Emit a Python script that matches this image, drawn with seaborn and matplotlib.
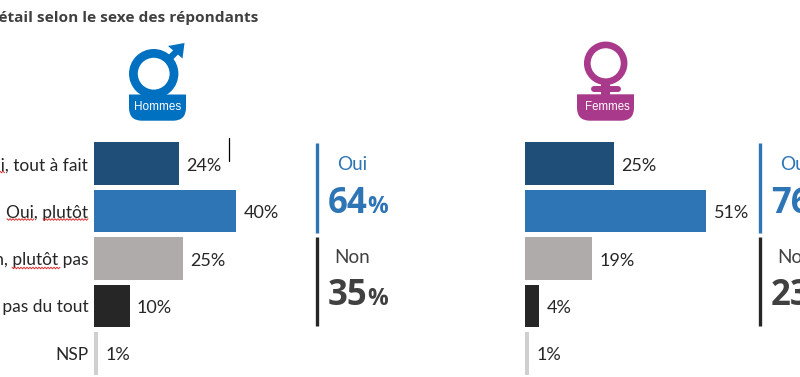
import matplotlib
matplotlib.use('Agg')
import matplotlib.pyplot as plt
from matplotlib.patches import Circle, Polygon, Rectangle, PathPatch
from matplotlib.path import Path
import numpy as np
import pandas as pd
import seaborn as sns

reponses = ['Oui, tout à fait', 'Oui, plutôt', 'Non, plutôt pas', 'Non, pas du tout', 'NSP']
hommes = [24, 40, 25, 10, 1]
femmes = [25, 51, 19, 4, 1]
total_oui = [64, 76]
total_non = [35, 23]
couleurs = ['#1F4E79', '#2E75B6', '#AEABAA', '#262626', '#D0CECE']

W, H = 800, 377
BLEU = '#0070C0'
MAUVE = '#A9398A'
GRIS = '#404040'
OPEN = ['Open Sans', 'DejaVu Sans']

sns.set_style('white')
plt.rcParams['font.family'] = ['Lato', 'DejaVu Sans']

fig = plt.figure(figsize=(W / 100, H / 100), dpi=100)


def panneau(x_px, valeurs):
    # 60 % = 213 px, 5 bandes de 47.5 px
    ax = fig.add_axes([x_px / W, 0, 213 / W, 237 / H])
    df = pd.DataFrame({'reponse': reponses, 'valeur': valeurs})
    sns.barplot(data=df, y='reponse', x='valeur', hue='reponse', palette=couleurs,
                order=reponses, hue_order=reponses, dodge=False, legend=False,
                width=0.9, saturation=1, linewidth=0, ax=ax)
    ax.set_xlim(0, 60)
    ax.set_xlabel('')
    ax.set_ylabel('')
    ax.set_xticks([])
    ax.tick_params(axis='y', length=0, pad=4.2, labelsize=12.5, labelcolor='#262626')
    for c in ax.containers:
        for lab in ax.bar_label(c, fmt='%d%%', padding=5.8, fontsize=13, color='#262626'):
            lab.xyann = (5.4, -1.5)
    sns.despine(ax=ax, left=True, bottom=True)
    return ax


ax1 = panneau(94, hommes)
ax2 = panneau(525, femmes)
ax2.set_yticklabels([])

# calque en pixels pour pictos, accolades et totaux
ov = fig.add_axes([0, 0, 1, 1], zorder=5)
ov.set_xlim(0, W)
ov.set_ylim(H, 0)
ov.axis('off')
ov.patch.set_alpha(0)

ov.text(258, 22, 'Détail selon le sexe des répondants', ha='right', va='baseline',
        fontsize=11.1, fontweight='bold', color=GRIS, family=OPEN)


def socle(x0, x1, y0, y1, r, couleur):
    verts = [(x0, y0), (x1, y0), (x1, y1 - r), (x1, y1), (x1 - r, y1),
             (x0 + r, y1), (x0, y1), (x0, y1 - r), (x0, y0)]
    codes = [Path.MOVETO, Path.LINETO, Path.LINETO, Path.CURVE3, Path.CURVE3,
             Path.LINETO, Path.CURVE3, Path.CURVE3, Path.CLOSEPOLY]
    ov.add_patch(PathPatch(Path(verts, codes), fc=couleur, ec='none'))


# picto hommes
ov.add_patch(Circle((153.7, 73.7), 20.3, fc='none', ec=BLEU, lw=6.3))
ov.plot([170, 178], [58, 50], color=BLEU, lw=4.6, solid_capstyle='butt')
ov.add_patch(Polygon([(168, 46), (184.5, 43), (182.5, 58.5)], fc=BLEU, ec='none'))
socle(129, 186, 94.5, 120.7, 13, BLEU)
ov.text(157.5, 107, 'Hommes', ha='center', va='center', color='white', fontsize=8.5,
        family='Liberation Sans')

# picto femmes
ov.add_patch(Circle((605.7, 63.3), 18.4, fc='none', ec=MAUVE, lw=4.8))
ov.add_patch(Rectangle((601, 83), 9.4, 12, fc=MAUVE, ec='none'))
ov.plot([593.5, 618], [89, 89], color=MAUVE, lw=4.3, solid_capstyle='round')
socle(577, 634, 94.3, 120.7, 13, MAUVE)
ov.text(607.3, 107, 'Femmes', ha='center', va='center', color='white', fontsize=8.3,
        family='Liberation Sans')

# accolades et totaux
for x_trait, x_oui, x_non, x_num, oui, non in zip([317, 760], [337, 780], [334, 777], [328, 771],
                                                   total_oui, total_non):
    ov.plot([x_trait, x_trait], [143, 233], color='#2E75B6', lw=2.4, solid_capstyle='butt')
    ov.plot([x_trait, x_trait], [237, 326], color='#262626', lw=2.4, solid_capstyle='butt')
    ov.text(x_oui, 170, 'Oui', color='#2E75B6', fontsize=13.6, va='baseline')
    ov.text(x_non, 263, 'Non', color=GRIS, fontsize=13.6, va='baseline')
    ov.text(x_num, 213, str(oui), color='#2E75B6', fontsize=25, fontweight='bold', va='baseline', family=OPEN)
    ov.text(x_num + 39, 213, '%', color='#2E75B6', fontsize=16.5, fontweight='bold', va='baseline', family=OPEN)
    ov.text(x_num, 305, str(non), color=GRIS, fontsize=25, fontweight='bold', va='baseline', family=OPEN)
    ov.text(x_num + 39, 305, '%', color=GRIS, fontsize=16.5, fontweight='bold', va='baseline', family=OPEN)

# curseur de texte
ov.plot([228.5, 228.5], [138, 161], color='black', lw=0.9)

# soulignés du correcteur d'orthographe
for x0, x1, y in [(0, 5, 172), (7, 34, 219.5), (43, 88, 219.5), (12, 60, 268)]:
    xs = np.arange(x0, x1 + 1, 1.5)
    ys = y + np.where(np.arange(len(xs)) % 2 == 0, -0.8, 0.8)
    ov.plot(xs, ys, color='#E03030', lw=0.7)

fig.savefig('out.png', dpi=100)
